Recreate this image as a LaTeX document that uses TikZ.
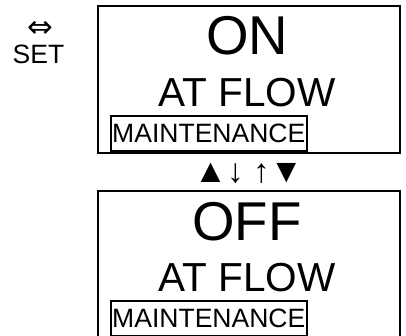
\documentclass[tikz,border=0pt]{standalone}
\usepackage{fontspec}
\setmainfont{Liberation Sans}
\newfontfamily\symfont{DejaVu Sans}
\usetikzlibrary{positioning}

\begin{document}
\begin{tikzpicture}[x=0.75pt,y=-0.75pt,
  screen/.style={draw,line width=1.5pt,minimum width=226.5pt,minimum height=110.25pt,anchor=north west,inner sep=0pt},
  tag/.style={draw,line width=1.2pt,minimum width=147pt,minimum height=26.25pt,anchor=south west,inner sep=0pt,font=\fontsize{19.9}{20}\selectfont},
  big/.style={anchor=base,font=\fontsize{41}{42}\selectfont,inner sep=0pt},
  mid/.style={anchor=base,font=\fontsize{30.4}{31}\selectfont,inner sep=0pt}]
\clip (0,0) rectangle (406,335);
\useasboundingbox (0,0) rectangle (406,335);
% keys on the left
\node[font=\symfont\fontsize{23}{23}\selectfont,inner sep=0pt] (swap) at (40,29) {⇔};
\node[anchor=base,font=\fontsize{19.9}{20}\selectfont,inner sep=0pt] (set) at (38.5,64) {SET};
% upper screen
\node[screen] (scrOn) at (97,5) {};
\node[big] (on) at (247,55) {ON};
\node[mid] (flowOn) at (247,106) {AT FLOW};
\node[tag] (mntOn) at (110,152) {MAINTENANCE};
% keys between
\node[anchor=base,font=\fontsize{25}{25}\selectfont,inner sep=0pt] (keys) at (248.5,182) {▲↓ ↑▼};
% lower screen
\node[screen] (scrOff) at (97,190) {};
\node[big] (off) at (247,240) {OFF};
\node[mid] (flowOff) at (247,291) {AT FLOW};
\node[tag] (mntOff) at (110,337) {MAINTENANCE};
\end{tikzpicture}
\end{document}
